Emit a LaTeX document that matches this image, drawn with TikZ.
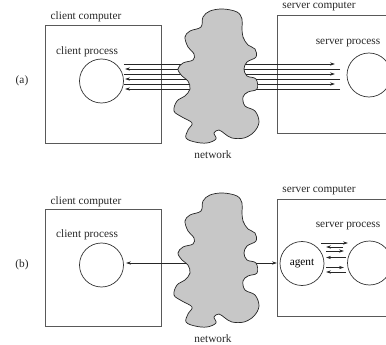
\documentclass[tikz,border=0pt]{standalone}
\usepackage{fontspec}
\setmainfont{Liberation Serif}
\usetikzlibrary{arrows.meta}
\begin{document}
\begin{tikzpicture}[x=1pt,y=-1pt,
  every node/.style={font=\fontsize{11.3}{13}\selectfont, inner sep=0pt},
  box/.style={draw=black!65, line width=0.8pt},
  proc/.style={draw=black!80, line width=0.7pt, circle, minimum size=44pt},
  lab/.style={text=black!85},
  arr/.style={draw=black!85, line width=0.7pt, -{Stealth[length=5pt,width=3.2pt]}},
  plain/.style={draw=black!85, line width=0.7pt},
  cloud/.style={fill=black!22, draw=black!85, line width=0.7pt}]
\useasboundingbox (0,0) rectangle (386,345);
\begin{scope}
\clip (0,0) rectangle (386,345);
% ---------- (a) ----------
\node[lab] (tagA) at (22,81) {(a)};
\draw[box] (45.5,25.5) rectangle (161.5,143.5);
\node[lab] (ccA) at (86,17) {client computer};
\node[lab] (cplA) at (87,52) {client process};
\node[proc] (cpA) at (101.5,81) {};
\draw[box] (277,15.5) rectangle (400,133.5);
\node[lab] (scA) at (319,7) {server computer};
\node[lab] (splA) at (348,43) {server process};
\node[proc] (spA) at (369,75) {};
\foreach \yy in {64,74,84}{
  \coordinate (l\yy) at (cpA.east |- 0,\yy);
  \coordinate (r\yy) at (335,\yy);
  \draw[arr] (l\yy) -- (r\yy);}
\foreach \yy in {69,79,89}{
  \coordinate (l\yy) at (125,\yy);
  \coordinate (r\yy) at (340,\yy);
  \draw[arr] (r\yy) -- (l\yy);}
\def\blob{plot[smooth cycle, tension=0.6] coordinates {
 (203,17) (210,11) (223,9) (237,12) (242,19) (242,28) (243,37) (248,45) (255,49) (256,57)
 (247,62) (244,69) (247,76) (256,79) (257,89) (248,92) (243,97) (245,106) (255,111)
 (259,122) (254,132) (244,138) (232,138) (225,134) (219,130) (214,133) (216,139) (207,143)
 (195,142) (186,138) (188,130) (192,123) (182,117) (174,111) (177,101) (185,96) (190,89)
 (188,81) (182,76) (178,69) (183,63) (193,60) (194,54) (188,47) (185,37) (190,31) (201,27)}}
\draw[cloud] \blob;
\node[lab] (netA) at (213,155) {network};
% ---------- (b) ----------
\node[lab] (tagB) at (22,265) {(b)};
\draw[box] (45.5,209.5) rectangle (161.5,326);
\node[lab] (ccB) at (86,202) {client computer};
\node[lab] (cplB) at (87,235) {client process};
\node[proc] (cpB) at (101.5,265) {};
\draw[box] (277,199.5) rectangle (400,316);
\node[lab] (scB) at (319,191) {server computer};
\node[lab] (splB) at (348,226) {server process};
\node[proc] (ag) at (302,263.5) {agent};
\node[proc] (spB) at (369.5,263) {};
\coordinate (bl) at (126,263);
\coordinate (br) at (277,263);
\draw[arr, {Stealth[length=5pt,width=3.2pt]}-{Stealth[length=5pt,width=3.2pt]}] (bl) -- (br);
\coordinate (m1a) at (321,243); \coordinate (m1b) at (348,243);
\coordinate (m2a) at (326,247); \coordinate (m2b) at (343,247);
\coordinate (m3a) at (326,251); \coordinate (m3b) at (344,251);
\coordinate (m4a) at (326,257.5); \coordinate (m4b) at (346,257.5);
\coordinate (m5a) at (326,267.5); \coordinate (m5b) at (344,267.5);
\coordinate (m6a) at (326,272); \coordinate (m6b) at (346,272);
\draw[arr] (m1a) -- (m1b);
\draw[arr] (m2b) -- (m2a);
\draw[arr] (m3a) -- (m3b);
\draw[arr] (m4b) -- (m4a);
\draw[arr] (m5a) -- (m5b);
\draw[arr] (m6b) -- (m6a);
\begin{scope}[yshift=-184pt]
\draw[cloud] \blob;
\end{scope}
\node[lab] (netB) at (213,339) {network};
\end{scope}
\end{tikzpicture}
\end{document}
